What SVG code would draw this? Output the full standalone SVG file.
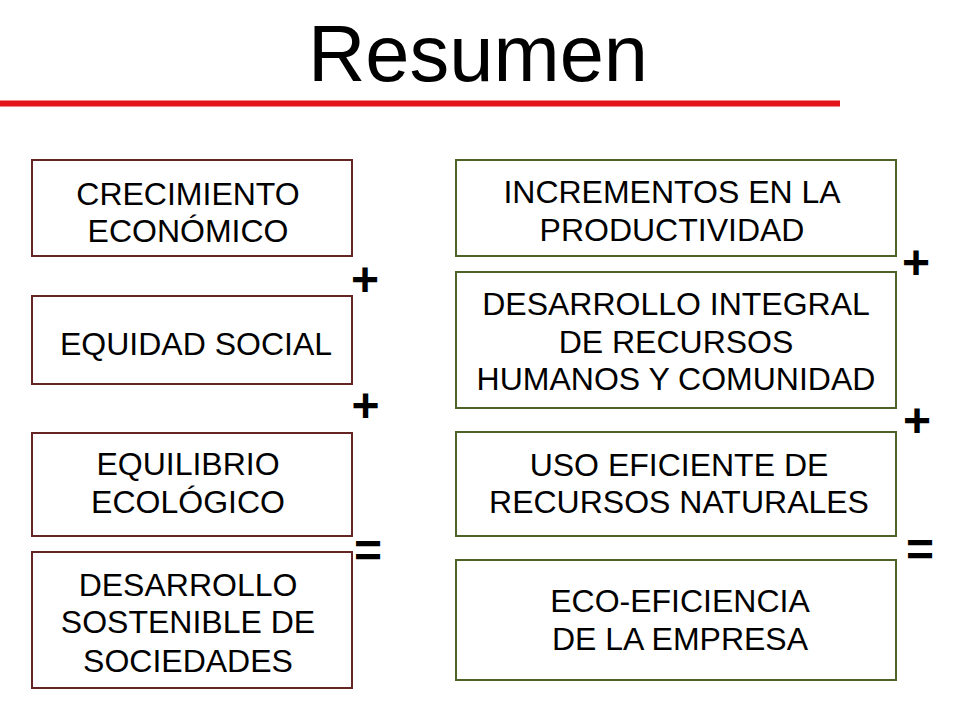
<svg xmlns="http://www.w3.org/2000/svg" width="960" height="720" viewBox="0 0 960 720">
<style>
.bl{fill:#ffffff;stroke:#632423;stroke-width:2}
.br{fill:#ffffff;stroke:#4f6228;stroke-width:2}
.t{font-family:"Liberation Sans",Arial,sans-serif;font-size:32px;fill:#000000;text-anchor:middle}
.op{font-family:"Liberation Sans",Arial,sans-serif;font-size:48px;font-weight:bold;fill:#000000;text-anchor:middle}
</style>
<rect width="960" height="720" fill="#ffffff"/>
<g id="title">
<text x="478" y="81" font-family="'Liberation Sans',Arial,sans-serif" font-size="80" text-anchor="middle" fill="#000000" textLength="340" lengthAdjust="spacingAndGlyphs">Resumen</text>
<rect x="0" y="100.5" width="840" height="6" fill="#e41519"/>
</g>
<g id="crecimiento">
<rect class="bl" x="32" y="160" width="320" height="96"/>
<text class="t" x="188" y="205">CRECIMIENTO</text>
<text class="t" x="188" y="242">ECONÓMICO</text>
</g>
<g id="equidad">
<rect class="bl" x="32" y="296" width="320" height="88"/>
<text class="t" x="196" y="355">EQUIDAD SOCIAL</text>
</g>
<g id="equilibrio">
<rect class="bl" x="32" y="433" width="320" height="103"/>
<text class="t" x="188" y="475">EQUILIBRIO</text>
<text class="t" x="188" y="513">ECOLÓGICO</text>
</g>
<g id="desarrollo-sostenible">
<rect class="bl" x="32" y="552" width="320" height="136"/>
<text class="t" x="188" y="596">DESARROLLO</text>
<text class="t" x="188" y="633">SOSTENIBLE DE</text>
<text class="t" x="188" y="672">SOCIEDADES</text>
</g>
<g id="incrementos">
<rect class="br" x="456" y="160" width="440" height="96"/>
<text class="t" x="672" y="203">INCREMENTOS EN LA</text>
<text class="t" x="672" y="241">PRODUCTIVIDAD</text>
</g>
<g id="desarrollo-integral">
<rect class="br" x="456" y="272" width="440" height="136"/>
<text class="t" x="676" y="315">DESARROLLO INTEGRAL</text>
<text class="t" x="676" y="353">DE RECURSOS</text>
<text class="t" x="676" y="390">HUMANOS Y COMUNIDAD</text>
</g>
<g id="uso-eficiente">
<rect class="br" x="456" y="432" width="440" height="104"/>
<text class="t" x="679" y="476">USO EFICIENTE DE</text>
<text class="t" x="679" y="513">RECURSOS NATURALES</text>
</g>
<g id="eco-eficiencia">
<rect class="br" x="456" y="560" width="440" height="120"/>
<text class="t" x="680" y="612">ECO-EFICIENCIA</text>
<text class="t" x="680" y="650">DE LA EMPRESA</text>
</g>
<g id="connectors">
<text class="op" x="365" y="296">+</text>
<text class="op" x="365.5" y="422">+</text>
<text class="op" x="368" y="567">=</text>
<text class="op" x="916" y="278.5">+</text>
<text class="op" x="917" y="436.5">+</text>
<text class="op" x="920" y="566">=</text>
</g>
</svg>
